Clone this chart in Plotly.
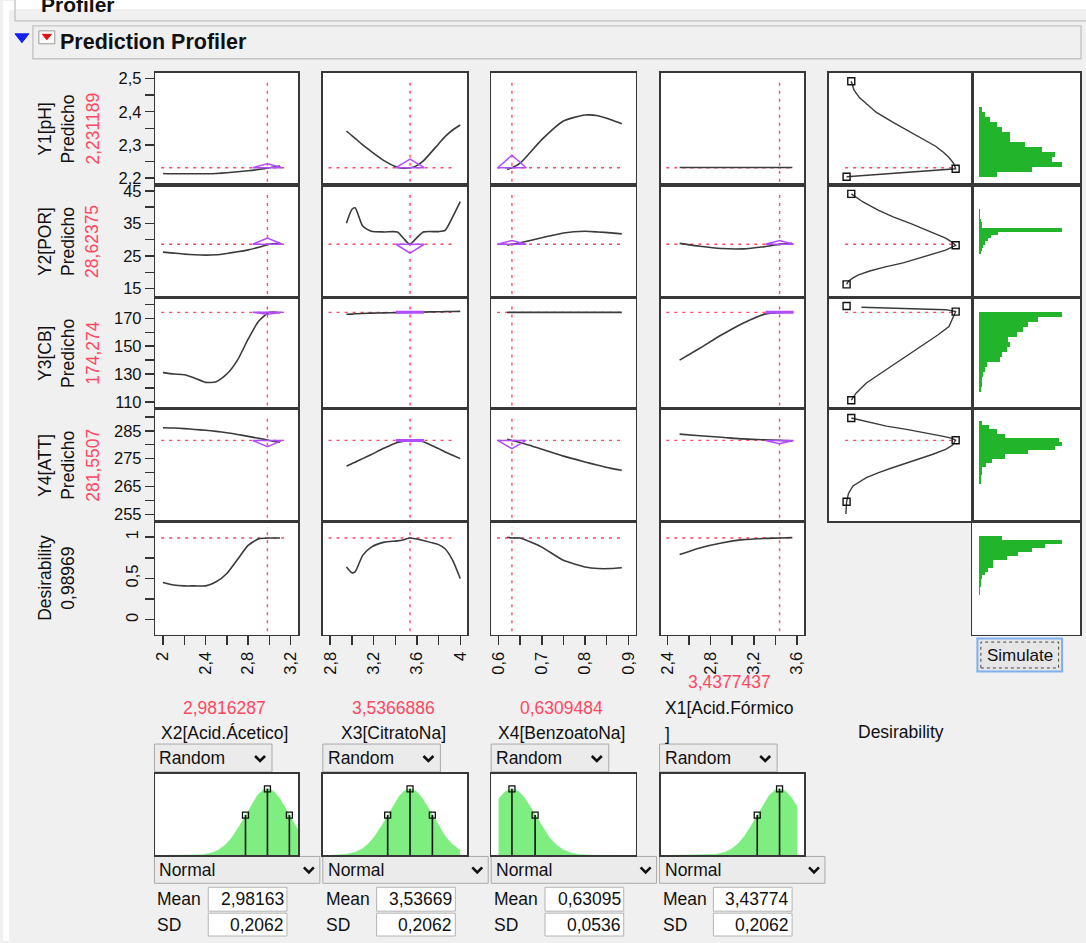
import numpy as np
import plotly.graph_objects as go

W, H = 1086, 943

# ------------------------------------------------------------------ data
factor_labels = ["X2[Acid.Ácetico]", "X3[CitratoNa]", "X4[BenzoatoNa]", "X1[Acid.Fórmico"]
factor_values = [2.9816287, 3.5366886, 0.6309484, 3.4377437]
factor_value_text = ["2,9816287", "3,5366886", "0,6309484", "3,4377437"]

response_labels = ["Y1[pH]", "Y2[POR]", "Y3[CB]", "Y4[ATT]"]
response_values = [2.231189, 28.62375, 174.274, 281.5507]
response_value_text = ["2,231189", "28,62375", "174,274", "281,5507"]
desirability_value = 0.98969
desirability_text = "0,98969"

# factor grids of the profile traces
x2_grid = [2.0, 2.1, 2.2, 2.3, 2.4, 2.5, 2.6, 2.7, 2.8, 2.9, 3.0, 3.1]
x3_grid = [2.95, 3.0, 3.03, 3.1, 3.18, 3.3, 3.42, 3.48, 3.535, 3.59, 3.66, 3.8, 3.86, 3.93, 4.0]
x4_grid = [0.62, 0.631, 0.65, 0.7, 0.75, 0.8, 0.83, 0.86, 0.885]
x1_grid = [2.514, 2.7, 2.9, 3.1, 3.3, 3.44, 3.556]

# Y1[pH] profiles
ph_x2 = [2.214, 2.213, 2.213, 2.213, 2.213, 2.214, 2.216, 2.219, 2.222, 2.226, 2.231, 2.236]
ph_x3 = [2.342, 2.328, 2.320, 2.300, 2.280, 2.252, 2.233, 2.230, 2.231, 2.236, 2.252, 2.303, 2.325, 2.345, 2.360]
ph_x4 = [2.226, 2.231, 2.245, 2.316, 2.372, 2.390, 2.388, 2.376, 2.364]
ph_x1 = [2.232, 2.232, 2.232, 2.232, 2.232, 2.232, 2.232]
# Y2[POR] profiles
por_x2 = [26.2, 25.9, 25.6, 25.4, 25.3, 25.4, 25.8, 26.3, 26.9, 27.7, 28.6, 29.0]
por_x3 = [35.1, 39.3, 39.8, 34.2, 32.6, 32.4, 32.4, 30.3, 28.6, 30.3, 32.4, 32.5, 32.9, 37.0, 41.7]
por_x4 = [28.4, 28.6, 29.1, 30.6, 32.1, 32.6, 32.4, 32.1, 31.8]
por_x1 = [28.9, 28.0, 27.3, 27.2, 27.9, 28.6, 28.9]
# Y3[CB] profiles
cb_x2 = [131.0, 130.0, 129.5, 127.0, 124.0, 124.5, 130.0, 140.0, 155.0, 168.0, 174.3, 174.0]
cb_x3 = [172.9, 173.0, 173.3, 173.5, 173.7, 173.9, 174.1, 174.2, 174.27, 174.35, 174.5, 174.7, 174.8, 174.9, 175.0]
cb_x4 = [174.3, 174.3, 174.3, 174.3, 174.3, 174.3, 174.3, 174.3, 174.3]
cb_x1 = [140.0, 148.5, 158.0, 166.5, 173.0, 174.3, 174.4]
# Y4[ATT] profiles
att_x2 = [286.1, 286.0, 285.8, 285.5, 285.2, 284.8, 284.3, 283.7, 283.0, 282.3, 281.55, 280.9]
att_x3 = [272.3, 273.2, 273.7, 275.0, 276.5, 278.8, 280.8, 281.3, 281.55, 281.5, 281.1, 278.6, 277.4, 276.2, 275.0]
att_x4 = [282.0, 281.55, 280.8, 278.4, 275.9, 273.8, 272.6, 271.5, 270.8]
att_x1 = [283.8, 283.2, 282.7, 282.1, 281.8, 281.55, 281.3]
# Desirability profiles
des_x2 = [0.45, 0.42, 0.41, 0.41, 0.41, 0.46, 0.56, 0.73, 0.90, 0.98, 0.99, 0.99]
des_x3 = [0.64, 0.57, 0.58, 0.78, 0.88, 0.94, 0.955, 0.97, 0.99, 0.98, 0.96, 0.91, 0.86, 0.72, 0.50]
des_x4 = [1.0, 0.99, 0.99, 0.88, 0.72, 0.64, 0.62, 0.62, 0.63]
des_x1 = [0.79, 0.87, 0.93, 0.97, 0.985, 0.99, 0.995]

# apex of the purple interval triangles (None = not drawn)
ph_ci_apex = [2.243, 2.257, 2.269, None]
por_ci_apex = [30.5, 25.9, 29.8, 29.8]
cb_ci_apex = [172.9, 174.274, None, 174.274]
att_ci_apex = [279.3, 281.5507, 278.6, 280.4]

# desirability functions (x = desirability, y = response)
ph_des_d = [0.055, 0.08, 0.13, 0.20, 0.28, 0.43, 0.55, 0.63, 0.72, 0.81, 0.88, 0.93, 0.97, 0.99, 0.013]
ph_des_y = [2.492, 2.465, 2.442, 2.420, 2.398, 2.368, 2.346, 2.331, 2.314, 2.296, 2.278, 2.262, 2.245, 2.228, 2.204]
ph_mark_d = [0.055, 0.99, 0.013]
ph_mark_y = [2.492, 2.228, 2.204]
por_des_d = [0.055, 0.16, 0.30, 0.43, 0.60, 0.72, 0.82, 0.90, 0.96, 0.99, 0.90, 0.81, 0.66, 0.52, 0.36, 0.22, 0.12, 0.07, 0.03, 0.013]
por_des_y = [44.1, 41.6, 39.0, 37.0, 34.8, 33.0, 31.6, 30.5, 29.2, 28.3, 26.8, 25.9, 24.3, 22.9, 21.7, 20.4, 19.2, 18.3, 17.3, 16.3]
por_mark_d = [0.055, 0.99, 0.013]
por_mark_y = [44.1, 28.3, 16.3]
cb_des_d = [0.146, 0.40, 0.70, 0.90, 0.99, 0.96, 0.93, 0.83, 0.72, 0.57, 0.43, 0.30, 0.19, 0.10, 0.055]
cb_des_y = [177.9, 177.5, 177.0, 176.2, 174.8, 170.0, 164.1, 158.0, 152.1, 144.0, 136.6, 129.5, 123.6, 116.4, 111.2]
cb_mark_d = [0.013, 0.99, 0.055]
cb_mark_y = [178.8, 174.8, 111.2]
att_des_d = [0.055, 0.20, 0.37, 0.55, 0.72, 0.88, 0.96, 0.99, 0.96, 0.90, 0.78, 0.66, 0.43, 0.30, 0.19, 0.07, 0.03, 0.013, 0.007]
att_des_y = [289.6, 288.2, 286.7, 285.5, 284.3, 283.0, 282.3, 281.6, 279.8, 278.3, 276.5, 274.8, 271.8, 270.0, 268.2, 265.2, 262.5, 259.5, 255.1]
att_mark_d = [0.055, 0.99, 0.013]
att_mark_y = [289.6, 281.6, 259.5]

# simulated histograms (bin centres, bar lengths)
ph_hist_y = [2.211, 2.226, 2.241, 2.256, 2.271, 2.286, 2.301, 2.316, 2.331, 2.346, 2.361, 2.376, 2.391, 2.406]
ph_hist_n = [18, 53, 83, 73, 76, 63, 46, 31, 31, 23, 18, 11, 6, 3]
ph_bin = 0.015
por_hist_y = [26, 27, 28, 29, 30, 31, 32, 33, 34, 35, 36, 37, 38, 39]
por_hist_n = [2, 3, 4, 6, 9, 12, 19, 83, 3, 3, 2, 1, 1, 1]
por_bin = 1.0
cb_hist_y = [119.0, 122.6, 126.2, 129.8, 133.4, 137.0, 140.6, 144.2, 147.8, 151.4, 155.0, 158.6, 162.2, 165.8, 169.4, 173.0]
cb_hist_n = [2, 3, 3, 4, 6, 8, 21, 23, 28, 31, 29, 38, 44, 49, 59, 83]
cb_bin = 3.6
att_hist_y = [266.75, 268.25, 269.75, 271.25, 272.75, 274.25, 275.75, 277.25, 278.75, 280.25, 281.75, 283.25, 284.75, 286.25, 287.75]
att_hist_n = [2, 2, 3, 3, 7, 13, 26, 49, 76, 83, 80, 26, 18, 10, 3]
att_bin = 1.5
des_hist_y = [0.320, 0.368, 0.416, 0.464, 0.512, 0.560, 0.608, 0.656, 0.704, 0.752, 0.800, 0.848, 0.896, 0.944, 0.992]
des_hist_n = [1, 1, 2, 2, 3, 6, 9, 14, 14, 28, 39, 53, 66, 83, 23]
des_bin = 0.048

# factor noise distributions
dist_means = [2.98163, 3.53669, 0.63095, 3.43774]
dist_sds = [0.2062, 0.2062, 0.0536, 0.2062]
dist_mean_text = ["2,98163", "3,53669", "0,63095", "3,43774"]
dist_sd_text = ["0,2062", "0,2062", "0,0536", "0,2062"]
dist_lo = [2.0, 2.8, 0.6, 2.4]
dist_hi = [3.3, 4.0, 0.9, 3.6]

# tick labels
x_tickvals = [[2, 2.4, 2.8, 3.2], [2.8, 3.2, 3.6, 4.0], [0.6, 0.7, 0.8, 0.9], [2.4, 2.8, 3.2, 3.6], [0, 0.25, 0.5, 0.75, 1]]
x_ticktext = [["2", "2,4", "2,8", "3,2"], ["2,8", "3,2", "3,6", "4"], ["0,6", "0,7", "0,8", "0,9"],
              ["2,4", "2,8", "3,2", "3,6"], ["0", "0,25", "0,5", "0,75", "1"]]
x_minor = [[2.2, 2.6, 3.0], [3.0, 3.4, 3.8], [0.65, 0.75, 0.85], [2.6, 3.0, 3.4], []]
y_tickvals = [[2.2, 2.3, 2.4, 2.5], [15, 25, 35, 45], [110, 130, 150, 170], [255, 265, 275, 285], [0, 0.5, 1]]
y_ticktext = [["2,2", "2,3", "2,4", "2,5"], ["15", "25", "35", "45"], ["110", "130", "150", "170"],
              ["255", "265", "275", "285"], ["0", "0,5", "1"]]
y_minor = [[2.25, 2.35, 2.45], [20, 30, 40], [120, 140, 160, 180], [260, 270, 280, 290], [0.25, 0.75]]

# ------------------------------------------------------------------ layout constants
FONT = "Liberation Sans, Arial, sans-serif"
FRAME = "#383838"
CURVE = "#3a3a3a"
RED = "#ff4862"
PURPLE = "#b24cff"
HIST = "#22b52c"
DFILL = "#7fee80"
BG = "#f0f0f0"
TXT = 17.5      # UI text size
TICK = 16.5     # tick label size

cols_px = [(153, 296), (321, 466), (490, 635), (660, 804), (829, 973), (973, 1081)]
rows_px = [(70, 183), (183, 296), (296, 408), (408, 521), (521, 635)]
x_ranges = [[1.929, 3.268], [2.732, 4.065], [0.583, 0.917], [2.338, 3.664], [-0.145, 1.14], [-7, 101]]
y_ranges = [[2.179, 2.518], [12.3, 46.8], [105, 185], [252.5, 292.9], [-0.18, 1.193]]
tri_halfwidth = [0.14, 0.13, 0.033, 0.13]
dist_px = (775, 857)
dist_yrange = [0, 1.224]


def px(x):
    return x / W


def py(y):
    return 1 - y / H


def aid(k):
    return "" if k == 1 else str(k)


fig = go.Figure()
lay = {}
shapes = []
annos = []

tickstyle = dict(ticks="outside", ticklen=9, tickwidth=1.4, tickcolor="#333",
                 tickfont=dict(size=TICK, color="#111", family=FONT))


def frame_axis(dom, rng, anchor):
    return dict(domain=dom, range=rng, anchor=anchor, showgrid=False, zeroline=False,
                showline=True, mirror=True, linecolor=FRAME, linewidth=1.6,
                ticks="", showticklabels=False, fixedrange=True)


# ---- axes of the profiler grid
for r in range(5):
    for c in range(6):
        k = r * 6 + c + 1
        xa = frame_axis([px(cols_px[c][0]), px(cols_px[c][1])], x_ranges[c], "y" + aid(k))
        ya = frame_axis([py(rows_px[r][1]), py(rows_px[r][0])], y_ranges[r], "x" + aid(k))
        if r == 4 and c < 5:
            xa.update(tickstyle)
            xa.update(showticklabels=True, tickmode="array", tickvals=x_tickvals[c],
                      ticktext=x_ticktext[c], tickangle=-90)
            if x_minor[c]:
                xa["minor"] = dict(tickvals=x_minor[c], ticks="outside", ticklen=9,
                                   tickwidth=1.4, tickcolor="#333", showgrid=False)
        if c == 0:
            ya.update(tickstyle)
            ya.update(showticklabels=True, tickmode="array", tickvals=y_tickvals[r],
                      ticktext=y_ticktext[r], tickangle=-90 if r == 4 else 0)
            ya["minor"] = dict(tickvals=y_minor[r], ticks="outside", ticklen=9,
                               tickwidth=1.4, tickcolor="#333", showgrid=False)
        lay["xaxis" + aid(k)] = xa
        lay["yaxis" + aid(k)] = ya

# ---- distribution panels
for c in range(4):
    k = 31 + c
    lay["xaxis" + aid(k)] = frame_axis([px(cols_px[c][0]), px(cols_px[c][1])], x_ranges[c], "y" + aid(k))
    lay["yaxis" + aid(k)] = frame_axis([py(dist_px[1]), py(dist_px[0])], dist_yrange, "x" + aid(k))

grids = [x2_grid, x3_grid, x4_grid, x1_grid]
profiles = [[ph_x2, ph_x3, ph_x4, ph_x1],
            [por_x2, por_x3, por_x4, por_x1],
            [cb_x2, cb_x3, cb_x4, cb_x1],
            [att_x2, att_x3, att_x4, att_x1],
            [des_x2, des_x3, des_x4, des_x1]]
row_pred = response_values + [desirability_value]
ci_apex = [ph_ci_apex, por_ci_apex, cb_ci_apex, att_ci_apex]
des_curves = [(ph_des_d, ph_des_y, ph_mark_d, ph_mark_y),
              (por_des_d, por_des_y, por_mark_d, por_mark_y),
              (cb_des_d, cb_des_y, cb_mark_d, cb_mark_y),
              (att_des_d, att_des_y, att_mark_d, att_mark_y)]
hists = [(ph_hist_y, ph_hist_n, ph_bin), (por_hist_y, por_hist_n, por_bin),
         (cb_hist_y, cb_hist_n, cb_bin), (att_hist_y, att_hist_n, att_bin),
         (des_hist_y, des_hist_n, des_bin)]

dotted = dict(color=RED, width=1.4, dash="3px,5px")

for r in range(5):
    for c in range(4):
        k = r * 6 + c + 1
        xr, yr = "x" + aid(k), "y" + aid(k)
        # reference lines at current settings
        shapes.append(dict(type="line", xref=xr, yref=yr + " domain", x0=factor_values[c],
                           x1=factor_values[c], y0=0.03, y1=0.95, line=dotted, layer="below"))
        shapes.append(dict(type="line", xref=xr + " domain", yref=yr, x0=0.04, x1=0.92,
                           y0=row_pred[r], y1=row_pred[r], line=dotted, layer="below"))
        fig.add_trace(go.Scatter(x=grids[c], y=profiles[r][c], mode="lines",
                                 line=dict(color=CURVE, width=1.6, shape="spline", smoothing=0.6),
                                 xaxis=xr, yaxis=yr, hoverinfo="skip", showlegend=False))
        if r < 4 and ci_apex[r][c] is not None:
            fv, hw, base, apex = factor_values[c], tri_halfwidth[c], row_pred[r], ci_apex[r][c]
            if abs(apex - base) < 1e-6:
                fig.add_trace(go.Scatter(x=[fv - hw, fv + hw], y=[base, base], mode="lines",
                                         line=dict(color=PURPLE, width=3), xaxis=xr, yaxis=yr,
                                         hoverinfo="skip", showlegend=False))
            else:
                fig.add_trace(go.Scatter(x=[fv - hw, fv, fv + hw, fv - hw], y=[base, apex, base, base],
                                         mode="lines", line=dict(color=PURPLE, width=1.5),
                                         xaxis=xr, yaxis=yr, hoverinfo="skip", showlegend=False))

    # desirability function column
    if r < 4:
        k = r * 6 + 5
        xr, yr = "x" + aid(k), "y" + aid(k)
        dd, dy, md, my = des_curves[r]
        shapes.append(dict(type="line", xref=xr, yref=yr, x0=0, x1=md[1],
                           y0=row_pred[r], y1=row_pred[r], line=dotted, layer="below"))
        fig.add_trace(go.Scatter(x=dd, y=dy, mode="lines", line=dict(color=CURVE, width=1.4),
                                 xaxis=xr, yaxis=yr, hoverinfo="skip", showlegend=False))
        fig.add_trace(go.Scatter(x=md, y=my, mode="markers",
                                 marker=dict(symbol="square-open", size=7, color="#111",
                                             line=dict(width=1.4)),
                                 xaxis=xr, yaxis=yr, hoverinfo="skip", showlegend=False))
    # histogram column
    k = r * 6 + 6
    hy, hn, hb = hists[r]
    fig.add_trace(go.Bar(y=hy, x=hn, orientation="h", width=hb,
                         marker=dict(color=HIST, line=dict(width=0)),
                         xaxis="x" + aid(k), yaxis="y" + aid(k), hoverinfo="skip", showlegend=False))

# ---- factor distributions
for c in range(4):
    k = 31 + c
    xr, yr = "x" + aid(k), "y" + aid(k)
    m, s = dist_means[c], dist_sds[c]
    xs = np.linspace(dist_lo[c], dist_hi[c], 240)
    ys = np.exp(-0.5 * ((xs - m) / s) ** 2)
    fig.add_trace(go.Scatter(x=xs, y=ys, mode="lines", fill="tozeroy", fillcolor=DFILL,
                             line=dict(color=DFILL, width=0.5), xaxis=xr, yaxis=yr,
                             hoverinfo="skip", showlegend=False))
    for j in (-1, 0, 1):
        xv = m + j * s
        if dist_lo[c] <= xv <= dist_hi[c]:
            hv = float(np.exp(-0.5 * j * j))
            fig.add_trace(go.Scatter(x=[xv, xv], y=[0, hv], mode="lines",
                                     line=dict(color="#111", width=1.6), xaxis=xr, yaxis=yr,
                                     hoverinfo="skip", showlegend=False))
            fig.add_trace(go.Scatter(x=[xv], y=[hv], mode="markers",
                                     marker=dict(symbol="square-open", size=6, color="#111",
                                                 line=dict(width=1.3)),
                                     xaxis=xr, yaxis=yr, hoverinfo="skip", showlegend=False))


# ------------------------------------------------------------------ UI decorations
def rect(x0, y0, x1, y1, fill, line="rgba(0,0,0,0)", width=1, dash=None):
    ln = dict(color=line, width=width)
    if dash:
        ln["dash"] = dash
    shapes.append(dict(type="rect", xref="paper", yref="paper", x0=px(x0), x1=px(x1),
                       y0=py(y1), y1=py(y0), fillcolor=fill, line=ln, layer="below"))


def path(points, fill=None, color="#111", width=2.5):
    d = "M " + " L ".join(f"{px(a)},{py(b)}" for a, b in points)
    if fill:
        d += " Z"
    shp = dict(type="path", xref="paper", yref="paper", path=d, line=dict(color=color, width=width))
    if fill:
        shp["fillcolor"] = fill
    shapes.append(shp)


def text(x, y, s, size=TXT, color="#111", xanchor="center", angle=0):
    annos.append(dict(x=px(x), y=py(y), xref="paper", yref="paper", text=s, showarrow=False,
                      xanchor=xanchor, yanchor="middle", textangle=angle,
                      font=dict(size=size, color=color, family=FONT)))


def chevron(cx, cy):
    path([(cx - 5, cy - 3), (cx, cy + 2), (cx + 5, cy - 3)], width=2.6)


# background pieces
rect(0, 0, 6, H, "white")
rect(0, -2, W + 2, 7, "white")
rect(12, -4, W + 4, 18, BG, "#bdbdbd", 1.2)
rect(13, -4, W + 4, 6, "white")
text(36, 2, "<b>Profiler</b>", size=21, xanchor="left")
rect(30, 23, 1082, 56, BG, "#c4c4c4", 1.4)
path([(12, 31), (26, 31), (19, 40)], fill="#1420f0", color="#1420f0", width=1)
rect(36, 28, 52, 41, "#fafafa", "#9a9a9a", 1)
path([(39.5, 31.5), (48.5, 31.5), (44, 37)], fill="#e01010", color="#e01010", width=1)
text(55, 39.5, "<b>Prediction Profiler</b>", size=21.5, xanchor="left")

# row titles
for r in range(5):
    cy = (rows_px[r][0] + rows_px[r][1]) / 2
    if r < 4:
        text(42, cy, response_labels[r], angle=-90)
        text(65, cy, "Predicho", angle=-90)
        text(90, cy, response_value_text[r], color=RED, angle=-90)
    else:
        text(42, cy, "Desirability", angle=-90)
        text(65, cy, desirability_text, angle=-90)

# factor labels under the grid
for c in range(4):
    cx = (cols_px[c][0] + cols_px[c][1]) / 2
    if c < 3:
        text(cx - 2, 709, factor_value_text[c], color=RED)
        text(cx - 2, 734, factor_labels[c])
    else:
        text(cx - 3, 683, factor_value_text[c], color=RED)
        text(662, 709, factor_labels[c], xanchor="left")
        text(662, 735, "]", xanchor="left")
text((cols_px[4][0] + cols_px[4][1]) / 2, 733, "Desirability")

# simulate button
rect(978, 639, 1063, 672, "#e6e6e6", "#7fb0f0", 2)
rect(981.5, 642.5, 1059.5, 668.5, "rgba(0,0,0,0)", "#444", 1, dash="dot")
text(1020.5, 656, "Simulate", size=17)

# controls under each factor
bottom_left = [152, 321, 490, 659]
for c in range(4):
    L = bottom_left[c]
    rect(L, 745, L + 118, 773, "#ebebeb", "#a9a9a9", 1)
    text(L + 3, 759, "Random", xanchor="left")
    chevron(L + 106, 760)
    rect(L, 858, L + 166, 885, "#ebebeb", "#a9a9a9", 1)
    text(L + 3, 871.5, "Normal", xanchor="left")
    chevron(L + 155, 872)
    text(L + 1, 901, "Mean", xanchor="left")
    rect(L + 54, 889, L + 133, 913, "white", "#b4b4b4", 1)
    text(L + 132, 901, dist_mean_text[c], xanchor="right")
    text(L + 1, 926.5, "SD", xanchor="left")
    rect(L + 54, 915, L + 133, 938, "white", "#b4b4b4", 1)
    text(L + 132, 926.5, dist_sd_text[c], xanchor="right")

lay.update(width=W, height=H, margin=dict(l=0, r=0, t=0, b=0), autosize=False,
           paper_bgcolor=BG, plot_bgcolor="white", showlegend=False, bargap=0,
           font=dict(family=FONT, size=16, color="#111"),
           shapes=shapes, annotations=annos)
fig.update_layout(lay)

fig.write_html("out.html", config={"displayModeBar": False, "staticPlot": True},
               post_script="document.body.style.margin='0px';document.body.style.overflow='hidden';")
